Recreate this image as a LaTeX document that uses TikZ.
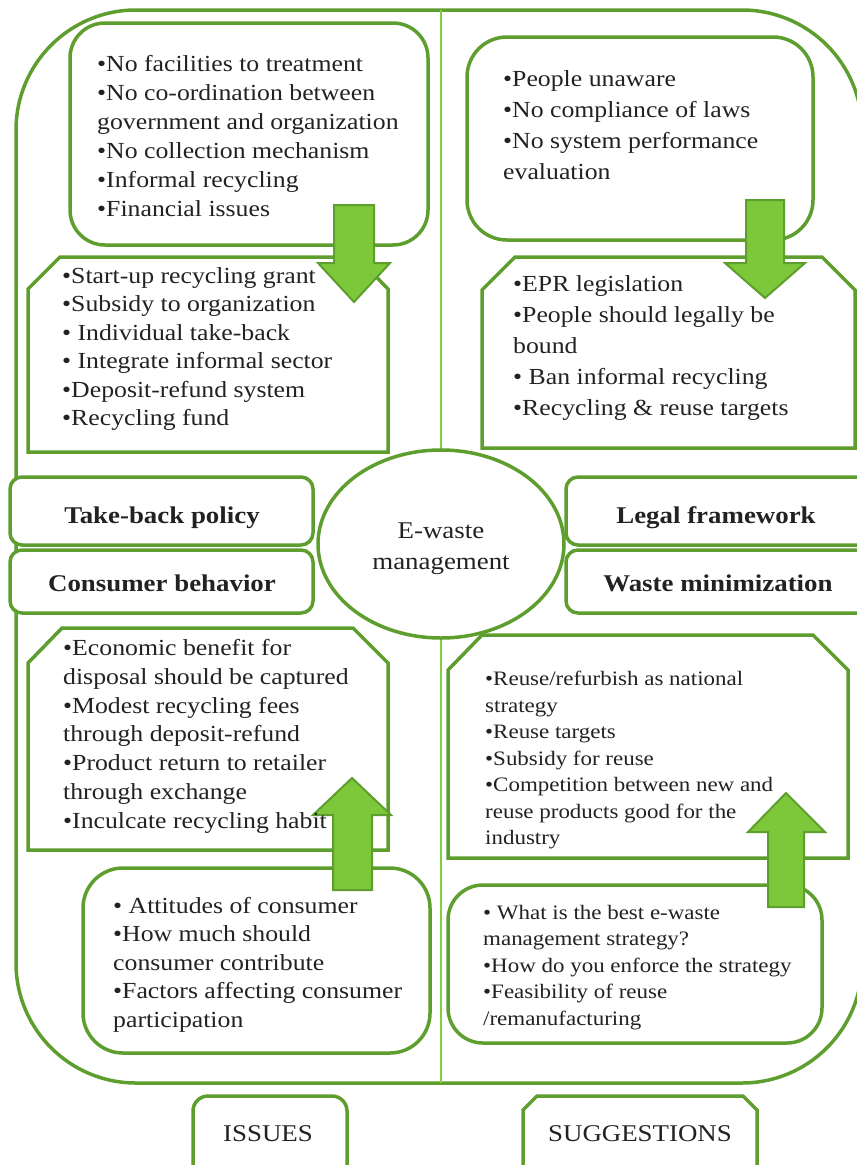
\documentclass[tikz,border=0pt]{standalone}
\usepackage{fontspec}
\setmainfont{Liberation Serif}[FakeStretch=1.12]
\definecolor{boxgreen}{HTML}{5E9E2E}
\definecolor{linegreen}{HTML}{7FD03A}
\definecolor{arrowfill}{HTML}{7CC83A}
\definecolor{txtcol}{HTML}{222222}
\tikzset{
  box/.style={draw=boxgreen, line width=3.5pt, fill=white},
  outerbox/.style={draw=boxgreen, line width=3.5pt},
  vline/.style={draw=linegreen, line width=2.5pt},
  blockarrow/.style={draw=boxgreen, line width=2pt, fill=arrowfill, line join=miter},
  txt/.style={anchor=north west, align=left, inner sep=0pt, text=txtcol},
  lbl/.style={anchor=base, inner sep=0pt, text=txtcol, font={\fontsize{24}{30}\selectfont\bfseries}},
  plain/.style={anchor=base, inner sep=0pt, text=txtcol, font={\fontsize{24}{30}\selectfont}}
}
\begin{document}
\begin{tikzpicture}[x=1pt,y=-1pt]
\useasboundingbox (0,0) rectangle (857,1165);
\clip (0,0) rectangle (857,1165);
% outer frame and centre line
\draw[outerbox, rounded corners=120] (16,10) rectangle (862,1083);
\draw[vline] (441,10) -- (441,1083);
% top-left
\draw[box, rounded corners=35] (70,23) rectangle (428,245);
\draw[box] (28,452) -- (28,289) -- (60,257) -- (357,257) -- (388,289) -- (388,452) -- cycle;
% top-right
\draw[box, rounded corners=40] (467,37) rectangle (813,240);
\draw[box] (482,448) -- (482,290) -- (515,257) -- (822,257) -- (855,290) -- (855,448) -- cycle;
% side labels
\draw[box, rounded corners=12] (10,477) rectangle (313,545);
\draw[box, rounded corners=12] (10,550) rectangle (313,613);
\draw[box, rounded corners=12] (566,477) rectangle (880,545);
\draw[box, rounded corners=12] (566,550) rectangle (880,613);
% centre ellipse
\draw[box] (441,544) ellipse [x radius=123, y radius=94];
% bottom-left
\draw[box] (28,850) -- (28,663) -- (62,628) -- (353,628) -- (388,663) -- (388,850) -- cycle;
\draw[box, rounded corners=40] (83,868) rectangle (430,1053);
% bottom-right
\draw[box] (448,858) -- (448,670) -- (482,635) -- (813,635) -- (848,670) -- (848,858) -- cycle;
\draw[box, rounded corners=35] (448,885) rectangle (822,1043);
% bottom tabs
\draw[box, rounded corners=15] (193,1096) rectangle (347,1190);
\draw[box] (523,1190) -- (523,1110) -- (537,1096) -- (743,1096) -- (757,1110) -- (757,1190);
% block arrows
\draw[blockarrow] (334,205) -- (374,205) -- (374,263) -- (390,263) -- (354,302) -- (318,263) -- (334,263) -- cycle;
\draw[blockarrow] (746,200) -- (784,200) -- (784,263) -- (805,263) -- (765,298) -- (725,263) -- (746,263) -- cycle;
\draw[blockarrow] (333,890) -- (372,890) -- (372,815) -- (391,815) -- (352,778) -- (313,815) -- (333,815) -- cycle;
\draw[blockarrow] (768,907) -- (804,907) -- (804,832) -- (825,832) -- (786,793) -- (748,832) -- (768,832) -- cycle;
% texts
\node[txt, font={\fontsize{23}{29}\selectfont}] (t1) at (97,55) {•No facilities to treatment\\•No co-ordination between\\government and organization\\•No collection mechanism\\•Informal recycling\\•Financial issues};
\node[txt, font={\fontsize{23}{28.5}\selectfont}] (t2) at (62,267) {•Start-up recycling grant\\•Subsidy to organization\\• Individual take-back\\• Integrate informal sector\\•Deposit-refund system\\•Recycling fund};
\node[txt, font={\fontsize{23}{31}\selectfont}] (t3) at (503,70) {•People unaware\\•No compliance of laws\\•No system performance\\evaluation};
\node[txt, font={\fontsize{23}{31}\selectfont}] (t4) at (513,275) {•EPR legislation\\•People should legally be\\bound\\• Ban informal recycling\\•Recycling \& reuse targets};
\node[txt, font={\fontsize{23}{28.8}\selectfont}] (t5) at (63,639) {•Economic benefit for\\disposal should be captured\\•Modest recycling fees\\through deposit-refund\\•Product return to retailer\\through exchange\\•Inculcate recycling habit};
\node[txt, font={\fontsize{23}{28.5}\selectfont}] (t6) at (113,897) {• Attitudes of consumer\\•How much should\\consumer contribute\\•Factors affecting consumer\\participation};
\node[txt, font={\fontsize{20.5}{26.5}\selectfont}] (t7) at (485,671) {•Reuse/refurbish as national\\strategy\\•Reuse targets\\•Subsidy for reuse\\•Competition between new and\\reuse products good for the\\industry};
\node[txt, font={\fontsize{20.5}{26.5}\selectfont}] (t8) at (483,905) {• What is the best e-waste\\management strategy?\\•How do you enforce the strategy\\•Feasibility of reuse\\/remanufacturing};
\node[lbl] (l1) at (162,523) {Take-back policy};
\node[lbl] (l2) at (162,591) {Consumer behavior};
\node[lbl] (l3) at (716,523) {Legal framework};
\node[lbl] (l4) at (718,591) {Waste minimization};
\node[plain] (c1) at (441,538) {E-waste};
\node[plain] (c2) at (441,569) {management};
\node[plain] (is) at (268,1141) {ISSUES};
\node[plain] (sg) at (640,1141) {SUGGESTIONS};
\end{tikzpicture}
\end{document}
